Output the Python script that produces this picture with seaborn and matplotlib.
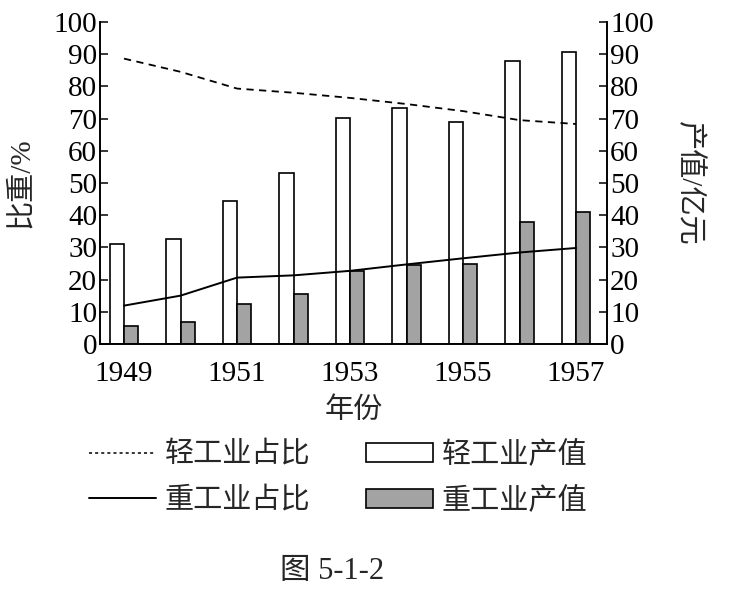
import matplotlib
matplotlib.use("Agg")
import matplotlib.pyplot as plt
from matplotlib.lines import Line2D
from matplotlib.patches import Patch
import seaborn as sns
import pandas as pd

# 数据
years = [1949, 1950, 1951, 1952, 1953, 1954, 1955, 1956, 1957]
light_share = [88.6, 84.5, 79.3, 78.0, 76.4, 74.5, 72.3, 69.5, 68.3]
heavy_share = [11.9, 15.0, 20.6, 21.3, 22.7, 24.7, 26.6, 28.4, 29.8]
light_output = [31.0, 32.5, 44.5, 53.0, 70.2, 73.3, 69.0, 87.8, 90.6]
heavy_output = [5.5, 6.9, 12.3, 15.5, 22.6, 24.5, 24.7, 38.0, 41.0]
xtick_years = [1949, 1951, 1953, 1955, 1957]
yticks = list(range(0, 101, 10))

sns.set_theme(style="white")
plt.rcParams["font.family"] = ["Liberation Serif", "Noto Sans CJK SC", "DejaVu Sans"]
plt.rcParams["axes.unicode_minus"] = False

bars = pd.DataFrame({
    "年份": years * 2,
    "产值": light_output + heavy_output,
    "类型": ["轻工业产值"] * len(years) + ["重工业产值"] * len(years),
})

fig = plt.figure(figsize=(7.3, 5.92), dpi=100)
ax = fig.add_axes([0.137, 0.419, 0.695, 0.544])
ax2 = ax.twinx()

sns.barplot(data=bars, x="年份", y="产值", hue="类型", native_scale=True,
            width=0.5, gap=0, dodge=True,
            palette={"轻工业产值": "white", "重工业产值": "#a3a3a3"},
            edgecolor="black", linewidth=1.2, legend=False, ax=ax2)

sns.lineplot(x=years, y=light_share, color="black", linewidth=1.3, ax=ax)
sns.lineplot(x=years, y=heavy_share, color="black", linewidth=1.4, ax=ax)
ax.lines[0].set_linestyle((0, (4, 3)))

ax.set_zorder(ax2.get_zorder() + 1)
ax.patch.set_visible(False)

for a in (ax, ax2):
    a.set_ylim(0, 100)
    a.set_yticks(yticks)
    a.set_xlim(1948.575, 1957.554)
    a.tick_params(axis="y", direction="in", length=6, width=1.1,
                  labelsize=21, colors="black", pad=2)
    for s in a.spines.values():
        s.set_color("black")
        s.set_linewidth(1.2)
    a.grid(False)
ax.spines["top"].set_visible(False)
ax2.spines["top"].set_visible(False)

ax.set_xticks(xtick_years)
ax.set_xticklabels([str(y) for y in xtick_years])
ax.tick_params(axis="x", length=0, labelsize=21, colors="black", pad=12)
ax2.set_xlabel("")

ax.set_xlabel("年份", fontsize=21, labelpad=8)
ax.set_ylabel("比重/%", fontsize=21, labelpad=14)
ax2.set_ylabel("产值/亿元", fontsize=21, rotation=270, labelpad=35)

handles = [
    Line2D([], [], color="black", linewidth=1.1, linestyle=(0, (2, 2))),
    Line2D([], [], color="black", linewidth=1.4),
    Patch(facecolor="white", edgecolor="black", linewidth=1.2),
    Patch(facecolor="#a3a3a3", edgecolor="black", linewidth=1.2),
]
labels = ["轻工业占比", "重工业占比", "轻工业产值", "重工业产值"]
fig.legend(handles, labels, ncol=2, loc="center", bbox_to_anchor=(0.463, 0.193),
           frameon=False, fontsize=21, handlelength=2.3, handleheight=0.65,
           handletextpad=0.3, columnspacing=1.9, labelspacing=0.62)

fig.text(0.455, 0.034, "图 5-1-2", ha="center", va="center", fontsize=22)

fig.savefig("out.png", dpi=100)
